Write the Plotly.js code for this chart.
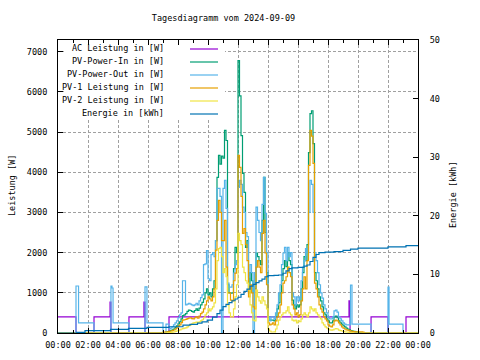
<!DOCTYPE html>
<html><head><meta charset="utf-8">
<script src="https://cdn.plot.ly/plotly-3.0.1.min.js"></script>
<style>html,body{margin:0;padding:0;background:#fff}#chart{width:480px;height:360px}</style>
</head><body><div id="chart"></div>
<script>
const titleText = "Tagesdiagramm vom 2024-09-09";
const xTickVals = [0,2,4,6,8,10,12,14,16,18,20,22,24];
const xTickText = ["00:00","02:00","04:00","06:00","08:00","10:00","12:00","14:00","16:00","18:00","20:00","22:00","00:00"];
const yTickVals = [0,1000,2000,3000,4000,5000,6000,7000];
const y2TickVals = [0,10,20,30,40,50];
const seriesNames = ["AC Leistung in [W]","PV-Power-In in [W]","PV-Power-Out in [W]","PV-1 Leistung in [W]","PV-2 Leistung in [W]","Energie in [kWh]"];
const seriesColors = ["#9400d3","#009e73","#56b4e9","#e69f00","#f0e442","#0072b2"];

// AC Leistung (step data, hours)
const acT = [0,1.2,2.4,3.47,3.53,4.73,5.73,5.8,7.4,19.4,19.47,20.87,22.0,23.2,24];
const acV = [400,0,400,770,0,400,770,0,400,800,0,400,0,400,400];

// daytime sample times (hours)
const dayT = [7.0,7.1,7.2,7.3,7.4,7.5,7.6,7.7,7.8,7.9,
 8.0,8.1,8.2,8.3,8.4,8.5,8.6,8.7,8.8,8.9,
 9.0,9.1,9.2,9.3,9.4,9.5,9.6,9.7,9.8,9.9,
 10.0,10.1,10.2,10.3,10.4,10.5,10.6,10.7,10.8,10.9,
 11.0,11.1,11.2,11.3,11.4,11.5,11.6,11.7,11.8,11.9,
 12.0,12.1,12.2,12.3,12.4,12.5,12.6,12.7,12.8,12.9,
 13.0,13.1,13.2,13.3,13.4,13.5,13.6,13.7,13.8,13.9,
 14.0,14.1,14.2,14.3,14.4,14.5,14.6,14.7,14.8,14.9,
 15.0,15.1,15.2,15.3,15.4,15.5,15.6,15.7,15.8,15.9,
 16.0,16.1,16.2,16.3,16.4,16.5,16.6,16.7,16.8,16.9,
 17.0,17.1,17.2,17.3,17.4,17.5,17.6,17.7,17.8,17.9,
 18.0,18.1,18.2,18.3,18.4,18.5,18.6,18.7,18.8,18.9,
 19.0,19.1,19.2,19.3,19.4,19.5,19.6,19.7,19.8,19.9,
 20.0,20.1,20.2,20.3,20.4];

// PV-Power-In
const pvInDay = [0,0,20,30,50,60,80,100,140,180,
 230,280,350,430,450,480,540,570,560,540,
 520,560,600,560,620,700,760,850,1000,1100,
 950,1000,900,1100,1300,2300,3870,4420,4200,4400,
 4350,5040,4790,1200,1000,990,1000,1600,2130,2000,
 6780,5900,4910,3970,3500,2130,2300,1000,1500,1300,
 1000,1100,1990,1900,1800,1700,2800,3870,2500,1500,
 400,320,320,320,300,400,600,750,1000,1300,
 1600,1800,1650,2000,1800,1700,820,700,600,700,
 650,700,1100,1500,1900,1800,2200,4490,5460,5530,
 4710,1500,1300,1100,900,800,650,500,450,350,
 300,250,250,300,400,420,380,300,250,220,
 180,150,120,100,80,60,50,40,30,20,
 10,5,0,0,0];

// PV-Power-Out
const pvOutAmT = [0,1.2,1.37,2.4,3.53,3.6,3.67,4.73,5.8,5.93];
const pvOutAmV = [0,1170,250,0,1170,1120,250,0,1150,250];
const pvOutDay = [0,0,220,220,100,120,150,200,250,300,
 380,450,500,1300,1300,700,720,740,720,700,
 680,700,740,700,800,880,950,1700,1720,2050,
 1350,1300,1950,2000,1900,2300,3600,3600,3400,0,
 3600,3800,3100,1240,1140,1140,1200,1490,1700,1800,
 3620,3800,3700,3130,3000,2500,2400,1390,1700,1500,
 0,1500,3130,2800,2500,2300,3200,3870,2980,2000,
 400,300,400,400,350,500,700,990,1200,1700,
 1990,2130,1800,2130,1900,2000,1000,900,700,900,
 800,900,1300,1640,1800,2100,2000,3000,3800,3700,
 3000,2000,1800,1500,1200,1000,870,700,600,500,
 400,350,350,400,550,570,520,400,350,300,
 250,220,200,200,200,1190,220,220,220,220,
 220,220,220,220,220];
const pvOutPmT = [20.87,22.0,22.07,23.0,24];
const pvOutPmV = [0,1140,220,0,0];

// PV-1
const pv1Day = [20,25,30,30,40,50,60,75,100,130,
 170,200,260,320,330,340,360,370,380,360,
 350,380,400,370,420,480,520,600,700,800,
 900,850,800,900,1100,2060,2800,3300,3000,2300,
 2300,2800,1640,1000,1000,820,800,1300,1490,1600,
 4420,4120,3400,2480,2600,2200,1800,900,1200,1000,
 650,600,1640,1800,1640,1500,2480,2800,1990,1200,
 250,200,220,250,200,300,400,500,700,1000,
 1240,1300,1400,1640,1500,1400,700,600,450,500,
 400,450,800,1100,1400,1100,1800,4170,5040,4900,
 4220,1240,1100,900,700,600,520,400,350,300,
 200,170,150,200,300,320,300,250,200,150,
 120,100,80,70,60,50,40,35,30,30,
 30,30,30,20,0];

// PV-2
const pv2Day = [0,0,5,10,10,15,20,25,40,50,
 60,80,100,110,120,130,150,180,200,230,
 250,260,270,260,280,300,330,380,450,500,
 600,550,600,650,750,1100,1800,2100,2130,1900,
 1500,1600,1400,700,500,400,400,600,900,1200,
 2480,2300,2200,1640,1500,1300,1240,1070,700,500,
 320,300,1070,900,800,740,900,800,700,600,
 100,50,25,25,30,100,200,320,400,450,
 500,500,550,650,500,450,320,300,320,250,
 300,280,350,450,500,450,400,500,650,600,
 550,600,500,450,400,350,250,200,150,130,
 100,80,70,80,100,110,100,70,60,50,
 40,30,25,20,15,10,5,0,0,0,
 0,0,0,0,0];

// Energie (kWh)
const eT = [0,1.25,1.8,3.5,4.7,5.93,7.4,8.33,8.8,9.3,9.6,9.95,10.3,10.6,10.8,11.0,11.2,11.4,11.6,11.8,12.0,12.2,12.4,12.6,12.8,13.0,13.2,13.4,13.6,13.8,14.0,14.4,14.7,15.0,15.2,15.4,15.6,16.0,16.4,16.6,16.8,17.0,17.2,17.4,17.8,18.4,19.0,19.5,20.0,22.0,23.2,24];
const eV = [0,0.12,0.4,0.63,0.8,0.97,1.07,1.36,1.47,1.7,1.9,2.2,2.7,3.3,3.9,4.5,4.9,5.2,5.5,5.8,6.1,6.6,7.1,7.5,8.0,8.3,8.6,8.9,9.2,9.6,9.8,9.85,9.9,10.2,10.6,11.0,11.1,11.2,11.4,11.6,12.2,12.9,13.4,13.7,13.8,13.9,14.1,14.3,14.5,14.7,14.9,14.9];

const FONT = "DejaVu Sans Mono";
const fs = 8.5;

function ln(x, y, i, axis) {
  return {x: x, y: y, type: 'scatter', mode: 'lines', name: seriesNames[i],
    yaxis: axis || 'y', line: {color: seriesColors[i], width: 1.2, shape: 'hv'},
    showlegend: false, hoverinfo: 'skip'};
}
const data = [
  ln(acT, acV, 0),
  ln([0].concat(dayT, [24]), [0].concat(pvInDay, [0]), 1),
  ln(pvOutAmT.concat(dayT, pvOutPmT), pvOutAmV.concat(pvOutDay, pvOutPmV), 2),
  ln([0].concat(dayT, [24]), [0].concat(pv1Day, [0]), 3),
  ln([0].concat(dayT, [24]), [0].concat(pv2Day, [0]), 4),
  ln(eT, eV, 5, 'y2')
];

// plot geometry in pixels
const L = 58, R = 418, T = 40, B = 333;
const px = x => (x - L) / (R - L);
const py = y => (B - y) / (B - T);

const shapes = [{type: 'rect', xref: 'paper', yref: 'paper', x0: px(64), x1: px(225), y0: py(118), y1: py(45),
  fillcolor: '#ffffff', line: {width: 0}, layer: 'above'}];
const annotations = [];
const legendY = [49, 62, 75, 88, 101, 114];
seriesNames.forEach((n, i) => {
  shapes.push({type: 'line', xref: 'paper', yref: 'paper', x0: px(190), x1: px(218), y0: py(legendY[i]), y1: py(legendY[i]),
    line: {color: seriesColors[i], width: 1.2}, layer: 'above'});
  annotations.push({xref: 'paper', yref: 'paper', x: px(166), y: py(legendY[i] - 1.5), xanchor: 'right', yanchor: 'middle',
    text: n, showarrow: false, font: {family: FONT, size: fs, color: '#000'}});
});
annotations.push({xref: 'paper', yref: 'paper', x: px(12), y: py(186), xanchor: 'center', yanchor: 'middle',
  text: 'Leistung [W]', textangle: -90, showarrow: false, font: {family: FONT, size: fs, color: '#000'}});
annotations.push({xref: 'paper', yref: 'paper', x: px(453), y: py(195), xanchor: 'center', yanchor: 'middle',
  text: 'Energie [kWh]', textangle: -90, showarrow: false, font: {family: FONT, size: fs, color: '#000'}});

const tf = {family: FONT, size: fs, color: '#000'};
const layout = {
  width: 480, height: 360,
  margin: {l: L, r: 480 - R, t: T, b: 360 - B, pad: 0},
  paper_bgcolor: '#fff', plot_bgcolor: '#fff',
  font: tf,
  title: {text: titleText, font: tf, x: 223.5 / 480, xref: 'container', xanchor: 'center', y: 1 - 18 / 360, yref: 'container', yanchor: 'middle'},
  showlegend: false,
  xaxis: {range: [0, 24], tickmode: 'array', tickvals: xTickVals, ticktext: xTickText,
    ticks: 'inside', ticklen: 5, tickcolor: '#000', tickwidth: 1,
    showline: true, linecolor: '#000', linewidth: 1, mirror: 'ticks',
    showgrid: true, gridcolor: '#a0a0a0', griddash: '3px,2px', gridwidth: 1, zeroline: false,
    minor: {tickmode: 'linear', tick0: 1, dtick: 2, ticks: 'inside', ticklen: 3, tickcolor: '#000', showgrid: false},
    tickfont: tf, ticklabelstandoff: 4, fixedrange: true},
  yaxis: {range: [0, 7290], tickmode: 'array', tickvals: yTickVals,
    ticks: 'inside', ticklen: 5, tickcolor: '#000', tickwidth: 1,
    showline: true, linecolor: '#000', linewidth: 1,
    showgrid: true, gridcolor: '#a0a0a0', griddash: '3px,2px', gridwidth: 1, zeroline: false,
    tickfont: tf, ticklabelstandoff: 8},
  yaxis2: {range: [0, 50], overlaying: 'y', side: 'right', tickmode: 'array', tickvals: y2TickVals,
    ticks: 'inside', ticklen: 5, tickcolor: '#000', tickwidth: 1,
    showline: true, linecolor: '#000', linewidth: 1,
    showgrid: false, zeroline: false, tickfont: tf, ticklabelstandoff: 9},
  shapes: shapes, annotations: annotations
};
Plotly.newPlot('chart', data, layout, {staticPlot: true, displayModeBar: false});
</script></body></html>
